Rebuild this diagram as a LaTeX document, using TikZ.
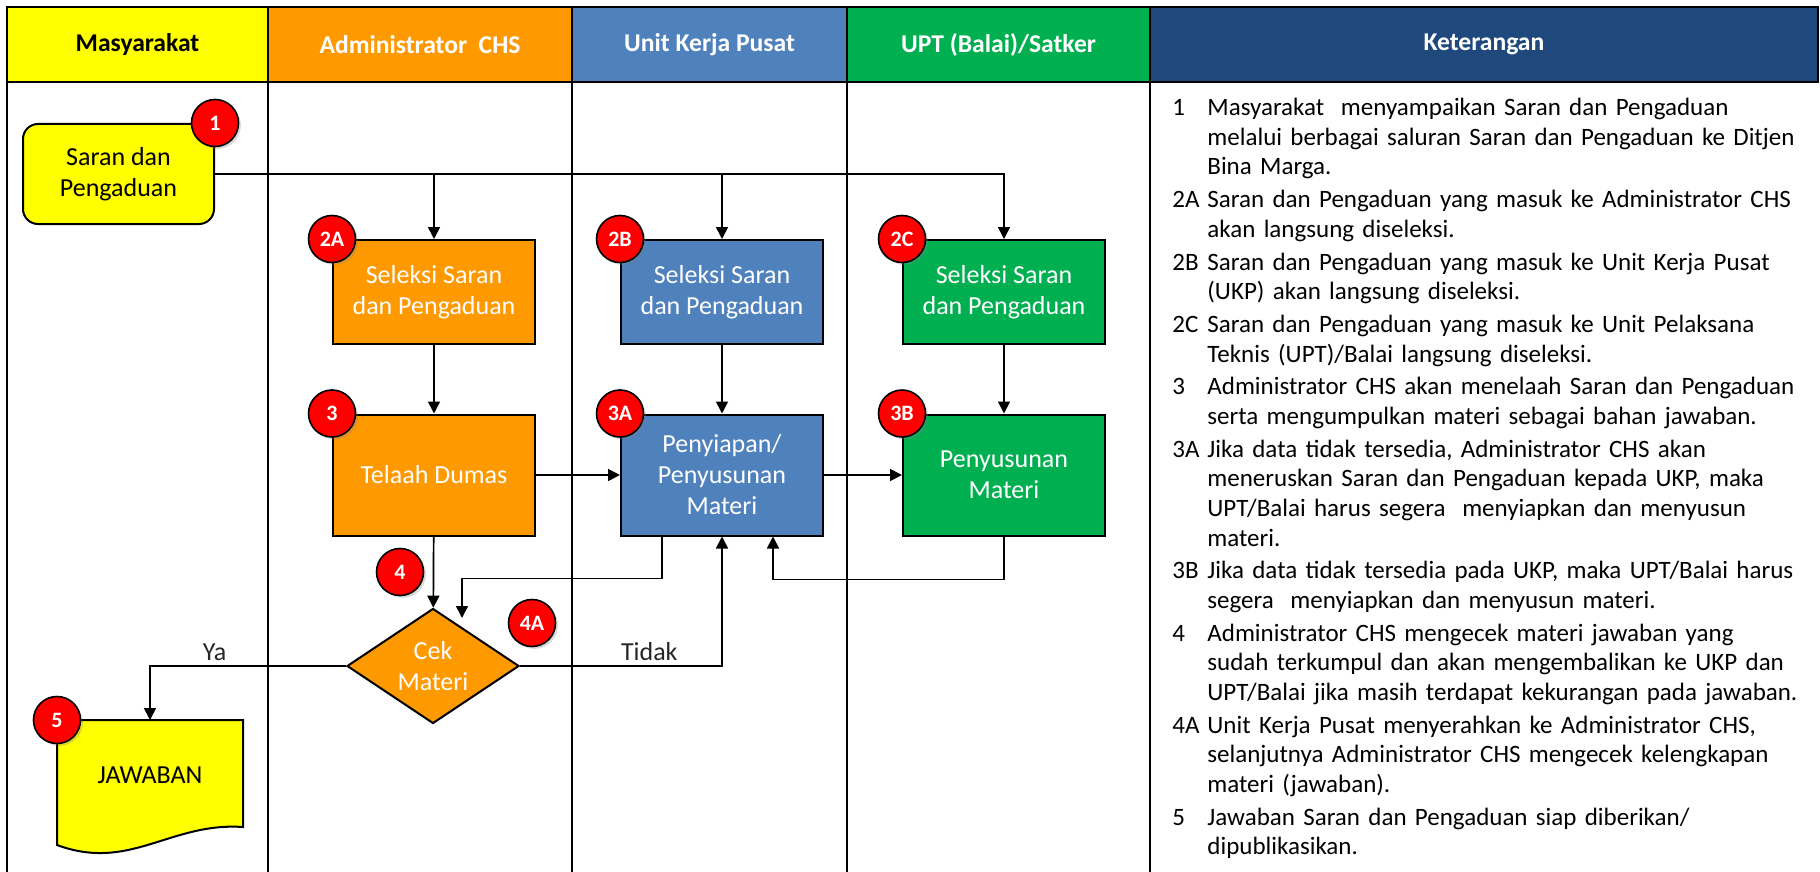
\documentclass[tikz,border=0pt]{standalone}
\usepackage{fontspec}
\setmainfont{Carlito}
\usetikzlibrary{arrows.meta,positioning,calc,shapes.geometric,shadows}

\definecolor{chsYellow}{HTML}{FFFF00}
\definecolor{chsOrange}{HTML}{FF9900}
\definecolor{chsBlue}{HTML}{4F81BD}
\definecolor{chsGreen}{HTML}{00B050}
\definecolor{chsNavy}{HTML}{1F497D}
\definecolor{badgeRed}{HTML}{FF0000}

% one numbered line of the legend, hanging indent for the wrapped lines
\newcommand{\ketItem}[2]{\hangindent=17.5pt\hangafter=1\noindent\makebox[17.5pt][l]{#1}#2\par}

\begin{document}
\begin{tikzpicture}[x=0.5pt,y=-0.5pt,
  head/.style={rectangle,draw=black,line width=0.6pt,minimum height=37.5pt,inner sep=0pt,font=\fontsize{12.8}{14}\selectfont\bfseries,text=white},
  lane/.style={line width=0.8pt},
  proc/.style={rectangle,draw=black,line width=1pt,minimum width=101pt,text=white,align=center,inner sep=2pt,font=\fontsize{13}{15.5}\selectfont},
  badge/.style={circle,draw=black,line width=0.8pt,fill=badgeRed,minimum size=23.5pt,inner sep=0pt,text=white,font=\fontsize{11}{12}\selectfont\bfseries,drop shadow={shadow xshift=1.2pt,shadow yshift=-1.2pt,opacity=0.3}},
  arrow/.style={-{Triangle[length=6pt,width=6pt]},line width=0.85pt},
  lbl/.style={font=\fontsize{13}{15}\selectfont,text=black!85}
]
\useasboundingbox (0,0) rectangle (1820,872);

% lane headers
\node[head,fill=chsYellow,text=black,minimum width=130.5pt] (hMas) at (137.5,44.5) {Masyarakat};
\node[head,fill=chsOrange,minimum width=152pt] (hAdm) at (420,44.5) {Administrator\ \ CHS};
\node[head,fill=chsBlue,minimum width=137.5pt] (hUkp) at (709.5,44.5) {Unit Kerja Pusat};
\node[head,fill=chsGreen,minimum width=151.5pt] (hUpt) at (998.5,44.5) {UPT (Balai)/Satker};
\node[head,fill=chsNavy,minimum width=334pt] (hKet) at (1484,44.5) {Keterangan};

% lane separators
\foreach \x in {7,268,572,847,1150}
  \draw[lane] (\x,82) -- (\x,872);

% process boxes
\node[proc,fill=chsYellow,text=black,rounded corners=7.5pt,minimum width=95.5pt,minimum height=50pt] (sp) at (118.5,174) {Saran dan\\Pengaduan};
\node[proc,fill=chsOrange,minimum height=52pt] (sa) at (434,292) {Seleksi Saran\\dan Pengaduan};
\node[proc,fill=chsBlue,minimum height=52pt] (sb) at (722,292) {Seleksi Saran\\dan Pengaduan};
\node[proc,fill=chsGreen,minimum height=52pt] (sc) at (1004,292) {Seleksi Saran\\dan Pengaduan};
\node[proc,fill=chsOrange,minimum height=60.5pt] (td) at (434,475) {Telaah Dumas};
\node[proc,fill=chsBlue,minimum height=60.5pt] (pm) at (722,475) {Penyiapan/\\Penyusunan\\Materi};
\node[proc,fill=chsGreen,minimum height=60.5pt] (ps) at (1004,475) {Penyusunan\\Materi};
\node[proc,diamond,fill=chsOrange,aspect=1.5,inner sep=0pt,minimum width=86pt,minimum height=57.5pt] (cek) at (433,666) {Cek\\Materi};

% document shape for the answer
\draw[fill=chsYellow,line width=1pt] (57,720) -- (243,720) -- (243,827)
  .. controls (170,822) and (130,872) .. (57,845) -- cycle;
\node[lbl,text=black] (jw) at (150,775) {JAWABAN};
\coordinate (jwtop) at (150,720);
\coordinate (cekIn) at (462,618);

% connectors
\draw[arrow] (sp.east) -| (sa.north);
\draw[arrow] (sp.east) -| (sb.north);
\draw[arrow] (sp.east) -| (sc.north);
\draw[arrow] (sa) -- (td);
\draw[arrow] (sb) -- (pm);
\draw[arrow] (sc) -- (ps);
\draw[arrow] (td) -- (pm);
\draw[arrow] (pm) -- (ps);
\draw[arrow] (td) -- (cek);
\draw[arrow] ([xshift=-30pt]pm.south) -- ++(0,42) -| (cekIn);
\draw[arrow] (ps.south) -- ++(0,43) -| ([xshift=25.5pt]pm.south);
\draw[arrow] (cek.east) -| node[lbl,pos=0.32,above=-1pt] {Tidak} (pm.south);
\draw[arrow] (cek.west) -| node[lbl,pos=0.335,above=-1pt] {Ya} (jwtop);

% step numbers
\node[badge] (b1) at (sp.north east) {1};
\node[badge] (b2a) at (sa.north west) {2A};
\node[badge] (b2b) at (sb.north west) {2B};
\node[badge] (b2c) at (sc.north west) {2C};
\node[badge] (b3) at (td.north west) {3};
\node[badge] (b3a) at (pm.north west) {3A};
\node[badge] (b3b) at (ps.north west) {3B};
\node[badge] (b4) at (400,572) {4};
\node[badge] (b4a) at (532,623) {4A};
\node[badge] (b5) at (57,720) {5};

% legend
\node[anchor=north west,inner sep=0pt,text width=325pt,align=left,font=\fontsize{12.5}{14.8}\selectfont] (ket) at (1172,98) {\setlength{\parskip}{1.6pt}%
\ketItem{1}{Masyarakat\ \ menyampaikan Saran dan Pengaduan\newline melalui berbagai saluran Saran dan Pengaduan ke Ditjen\newline Bina Marga.}
\ketItem{2A}{Saran dan Pengaduan yang masuk ke Administrator CHS\newline akan langsung diseleksi.}
\ketItem{2B}{Saran dan Pengaduan yang masuk ke Unit Kerja Pusat\newline (UKP) akan langsung diseleksi.}
\ketItem{2C}{Saran dan Pengaduan yang masuk ke Unit Pelaksana\newline Teknis (UPT)/Balai langsung diseleksi.}
\ketItem{3}{Administrator CHS akan menelaah Saran dan Pengaduan\newline serta mengumpulkan materi sebagai bahan jawaban.}
\ketItem{3A}{Jika data tidak tersedia, Administrator CHS akan\newline meneruskan Saran dan Pengaduan kepada UKP, maka\newline UPT/Balai harus segera\ \ menyiapkan dan menyusun\newline materi.}
\ketItem{3B}{Jika data tidak tersedia pada UKP, maka UPT/Balai harus\newline segera\ \ menyiapkan dan menyusun materi.}
\ketItem{4}{Administrator CHS mengecek materi jawaban yang\newline sudah terkumpul dan akan mengembalikan ke UKP dan\newline UPT/Balai jika masih terdapat kekurangan pada jawaban.}
\ketItem{4A}{Unit Kerja Pusat menyerahkan ke Administrator CHS,\newline selanjutnya Administrator CHS mengecek kelengkapan\newline materi (jawaban).}
\ketItem{5}{Jawaban Saran dan Pengaduan siap diberikan/\newline dipublikasikan.}};
\end{tikzpicture}
\end{document}
